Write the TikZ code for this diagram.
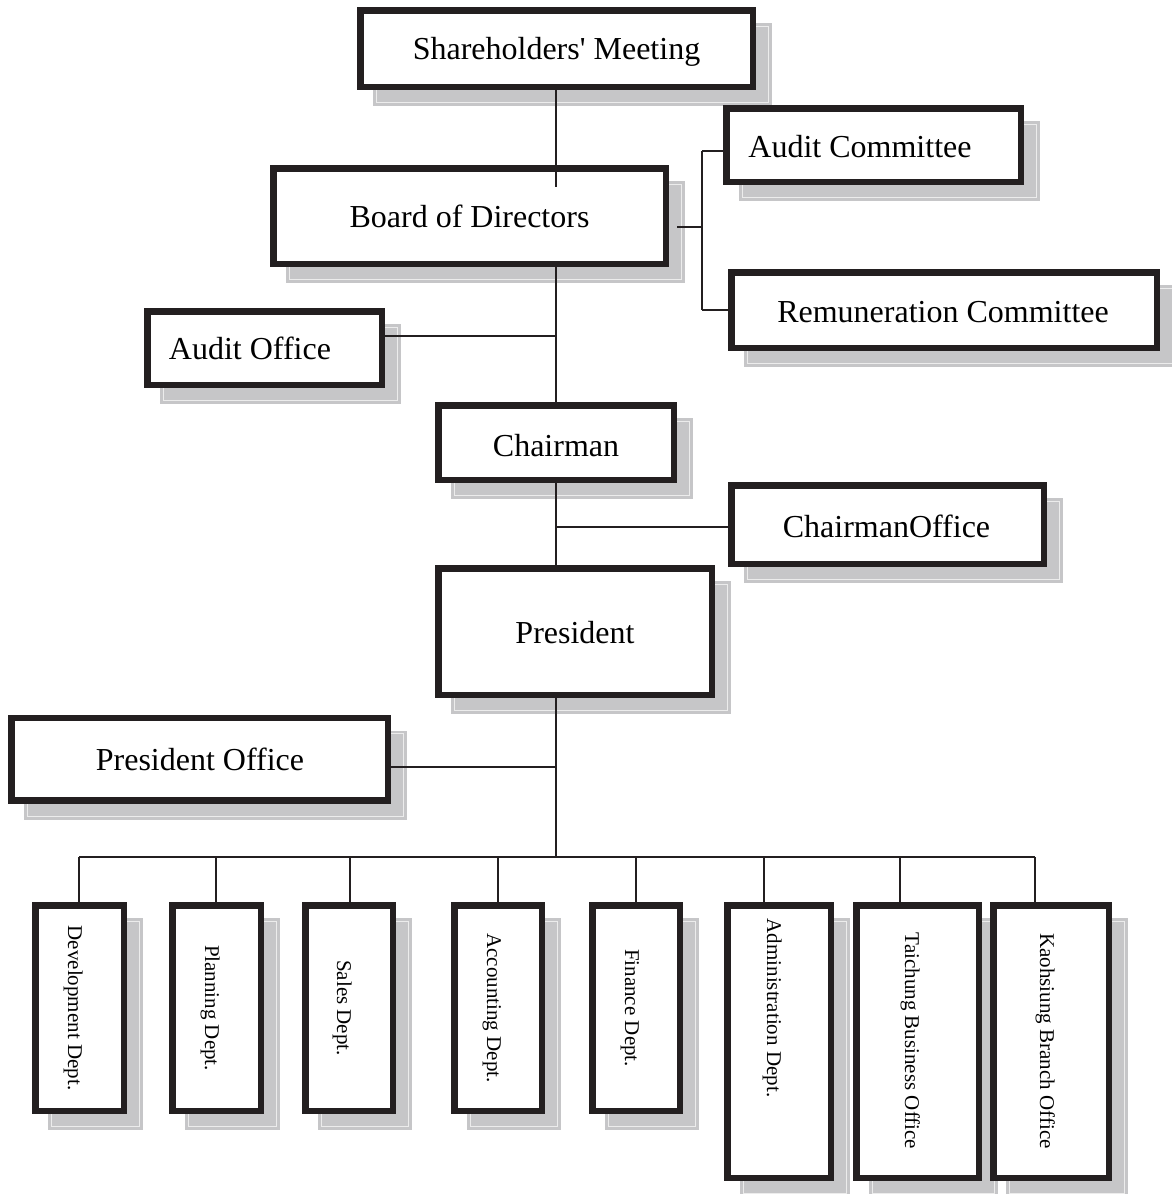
\documentclass[tikz,border=0pt]{standalone}
\usepackage{fontspec}
\setmainfont{Liberation Serif}
\definecolor{shgray}{HTML}{C6C6C8}
\definecolor{shline}{HTML}{ECECEC}
\definecolor{boxline}{HTML}{231F20}
\begin{document}
\begin{tikzpicture}[x=1pt,y=-1pt,
  orgbox/.style={draw=boxline, line width=6.5pt, fill=white, inner sep=0pt, outer sep=0pt,
    preaction={fill=shgray, draw=shgray, line width=6.5pt, transform canvas={shift={(16pt,-16pt)}}},
    preaction={draw=shline, line width=0.9pt, transform canvas={shift={(16pt,-16pt)}}}},
  htxt/.style={anchor=base, inner sep=0pt, font=\fontsize{32}{38}\selectfont},
  vtxt/.style={anchor=base, inner sep=0pt, rotate=-90, font=\fontsize{21}{25}\selectfont},
  conn/.style={draw=boxline, line width=2pt}]
\useasboundingbox (0,0) rectangle (1172,1194);

% boxes (minimum sizes = outer size - border width)
\node[orgbox, minimum width=392.5pt, minimum height=76.5pt] (sh) at (556.5,48.5) {};
\node[orgbox, minimum width=294.5pt, minimum height=73.5pt] (ac) at (873.5,145) {};
\node[orgbox, minimum width=392.5pt, minimum height=95.5pt] (bd) at (469.5,216) {};
\node[orgbox, minimum width=425.5pt, minimum height=75.5pt] (rc) at (944,310) {};
\node[orgbox, minimum width=234.5pt, minimum height=73.5pt] (ao) at (264.5,348) {};
\node[orgbox, minimum width=235.5pt, minimum height=74.5pt] (ch) at (556,442.5) {};
\node[orgbox, minimum width=312.5pt, minimum height=78.5pt] (co) at (887.5,524.5) {};
\node[orgbox, minimum width=273.5pt, minimum height=126.5pt] (pr) at (575,631.5) {};
\node[orgbox, minimum width=376.5pt, minimum height=82.5pt] (po) at (199.5,759) {};

\node[orgbox, minimum width=88.5pt, minimum height=205.5pt] (dev) at (79.5,1008) {};
\node[orgbox, minimum width=88.5pt, minimum height=205.5pt] (pl) at (216.5,1008) {};
\node[orgbox, minimum width=87.5pt, minimum height=205.5pt] (sa) at (349,1008) {};
\node[orgbox, minimum width=87.5pt, minimum height=205.5pt] (acc) at (498,1008) {};
\node[orgbox, minimum width=87.5pt, minimum height=205.5pt] (fin) at (636,1008) {};
\node[orgbox, minimum width=103.5pt, minimum height=272.5pt] (adm) at (779,1041.5) {};
\node[orgbox, minimum width=122.5pt, minimum height=272.5pt] (tai) at (917.5,1041.5) {};
\node[orgbox, minimum width=115.5pt, minimum height=272.5pt] (kao) at (1051,1041.5) {};

% texts
\node[htxt] (tsh) at (556.5,59) {Shareholders\textquotesingle\ Meeting};
\node[htxt] (tac) at (860,157) {Audit Committee};
\node[htxt] (tbd) at (469.5,227) {Board of Directors};
\node[htxt] (trc) at (943,322) {Remuneration Committee};
\node[htxt] (tao) at (250,359) {Audit Office};
\node[htxt] (tch) at (556,456) {Chairman};
\node[htxt] (tco) at (886.5,537) {ChairmanOffice};
\node[htxt] (tpr) at (575,643) {President};
\node[htxt] (tpo) at (200,770) {President Office};

\node[vtxt] (tdev) at (68,1008) {Development Dept.};
\node[vtxt] (tpl) at (205,1008) {Planning Dept.};
\node[vtxt] (tsa) at (337,1008) {Sales Dept.};
\node[vtxt] (tacc) at (487,1008) {Accounting Dept.};
\node[vtxt] (tfin) at (625,1008) {Finance Dept.};
\node[vtxt] (tadm) at (767,1008) {Administration Dept.};
\node[vtxt] (ttai) at (905,1041) {Taichung Business Office};
\node[vtxt] (tkao) at (1040,1041) {Kaohsiung Branch Office};

% connector coordinates
\coordinate (bdin) at (556,187);
\coordinate (bdr) at (677,227);
\coordinate (jc) at (702,227);
\coordinate (jac) at (702,151);
\coordinate (jrc) at (702,310);
\coordinate (jao) at (556,336);
\coordinate (jco) at (556,527);
\coordinate (jpo) at (556,767);
\coordinate (bus) at (556,857);
\coordinate (b1) at (79,857);
\coordinate (b2) at (216,857);
\coordinate (b3) at (350,857);
\coordinate (b4) at (498,857);
\coordinate (b5) at (636,857);
\coordinate (b6) at (764,857);
\coordinate (b7) at (900,857);
\coordinate (b8) at (1035,857);

% connectors
\draw[conn] (sh.south -| bdin) -- (bdin);
\draw[conn] (bdr) -- (jc);
\draw[conn] (jac) -- (jrc);
\draw[conn] (jac) -- (jac -| ac.west);
\draw[conn] (jrc) -- (jrc -| rc.west);
\draw[conn] (bd.south -| jao) -- (ch.north);
\draw[conn] (ao.east |- jao) -- (jao);
\draw[conn] (ch.south) -- (pr.north -| ch.south);
\draw[conn] (jco) -- (jco -| co.west);
\draw[conn] (pr.south -| bus) -- (bus);
\draw[conn] (po.east |- jpo) -- (jpo);
\draw[conn] (b1) -- (b8);
\draw[conn] (b1) -- (b1 |- dev.north);
\draw[conn] (b2) -- (b2 |- pl.north);
\draw[conn] (b3) -- (b3 |- sa.north);
\draw[conn] (b4) -- (b4 |- acc.north);
\draw[conn] (b5) -- (b5 |- fin.north);
\draw[conn] (b6) -- (b6 |- adm.north);
\draw[conn] (b7) -- (b7 |- tai.north);
\draw[conn] (b8) -- (b8 |- kao.north);
\end{tikzpicture}
\end{document}
